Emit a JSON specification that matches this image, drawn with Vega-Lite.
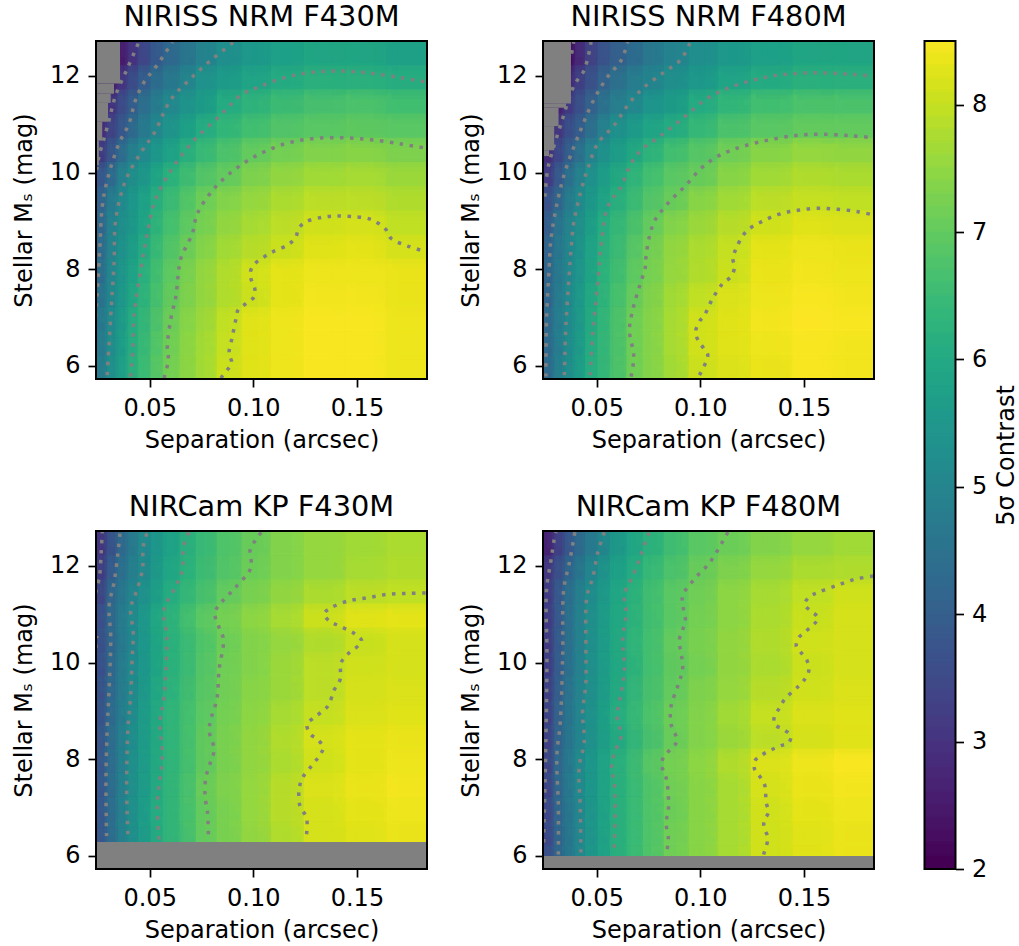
{"$schema":"https://vega.github.io/schema/vega-lite/v6.json","background":"white","padding":{"left":12,"top":3,"right":0,"bottom":0},
"config":{"font":"DejaVu Sans","view":{"stroke":null},"title":{"font":"DejaVu Sans","fontSize":28.8,"fontWeight":"normal","color":"black","offset":8},"axis":{"grid":false,"domain":false,"tickSize":8,"tickWidth":1.7,"tickColor":"black","labelColor":"black","titleColor":"black","labelFont":"DejaVu Sans","titleFont":"DejaVu Sans","labelFontSize":24,"titleFontSize":24,"titleFontWeight":"normal"},"axisX":{"labelPadding":9,"titlePadding":8},"axisY":{"labelPadding":8,"titlePadding":13}},
"datasets":{
"cols":[{"x":0.024,"x2":0.0293},{"x":0.029,"x2":0.0343},{"x":0.034,"x2":0.0393},{"x":0.039,"x2":0.0443},{"x":0.044,"x2":0.0503},{"x":0.05,"x2":0.0563},{"x":0.056,"x2":0.0643},{"x":0.064,"x2":0.0723},{"x":0.072,"x2":0.0823},{"x":0.082,"x2":0.0943},{"x":0.094,"x2":0.1083},{"x":0.108,"x2":0.1243},{"x":0.124,"x2":0.1443},{"x":0.144,"x2":0.1643},{"x":0.164,"x2":0.1845}],
"frame":[{"x":0.0241,"x2":0.1838,"y":5.73,"y2":12.72}],
"maskA":[{"x":0.0241,"x2":0.0357,"y":11.84,"y2":12.72},{"x":0.0241,"x2":0.0328,"y":11.63,"y2":11.84},{"x":0.0241,"x2":0.0312,"y":11.44,"y2":11.63},{"x":0.0241,"x2":0.0299,"y":11.05,"y2":11.44},{"x":0.0241,"x2":0.0271,"y":10.66,"y2":11.05},{"x":0.0241,"x2":0.0255,"y":10.15,"y2":10.66}],
"maskB":[{"x":0.0241,"x2":0.0376,"y":11.43,"y2":12.72},{"x":0.0241,"x2":0.0352,"y":11.34,"y2":11.43},{"x":0.0241,"x2":0.0316,"y":10.96,"y2":11.34},{"x":0.0241,"x2":0.0295,"y":10.46,"y2":10.96},{"x":0.0241,"x2":0.027,"y":10.34,"y2":10.46}],
"maskC":[{"x":0.0241,"x2":0.1838,"y":5.73,"y2":6.29}],
"maskD":[{"x":0.0241,"x2":0.1838,"y":5.73,"y2":6.0}],
"lineA":[{"lev":8,"x":0.0843,"y":5.75},{"lev":8,"x":0.0875,"y":5.92},{"lev":8,"x":0.0896,"y":6.06},{"lev":8,"x":0.0883,"y":6.26},{"lev":8,"x":0.0899,"y":6.61},{"lev":8,"x":0.0915,"y":6.95},{"lev":8,"x":0.0927,"y":7.16},{"lev":8,"x":0.0964,"y":7.29},{"lev":8,"x":0.1004,"y":7.43},{"lev":8,"x":0.1007,"y":7.6},{"lev":8,"x":0.0988,"y":7.81},{"lev":8,"x":0.0988,"y":7.98},{"lev":8,"x":0.1009,"y":8.12},{"lev":8,"x":0.1085,"y":8.34},{"lev":8,"x":0.1165,"y":8.5},{"lev":8,"x":0.1205,"y":8.66},{"lev":8,"x":0.1218,"y":8.84},{"lev":8,"x":0.1254,"y":8.98},{"lev":8,"x":0.1326,"y":9.07},{"lev":8,"x":0.1391,"y":9.1},{"lev":8,"x":0.1471,"y":9.09},{"lev":8,"x":0.1568,"y":9.03},{"lev":8,"x":0.164,"y":8.82},{"lev":8,"x":0.1664,"y":8.64},{"lev":8,"x":0.1745,"y":8.48},{"lev":8,"x":0.1838,"y":8.36},
{"lev":7,"x":0.0569,"y":5.75},{"lev":7,"x":0.059,"y":6.12},{"lev":7,"x":0.0585,"y":6.4},{"lev":7,"x":0.0601,"y":6.95},{"lev":7,"x":0.0626,"y":7.43},{"lev":7,"x":0.0637,"y":7.85},{"lev":7,"x":0.065,"y":8.22},{"lev":7,"x":0.0706,"y":8.74},{"lev":7,"x":0.073,"y":9.15},{"lev":7,"x":0.0811,"y":9.67},{"lev":7,"x":0.0907,"y":10.05},{"lev":7,"x":0.102,"y":10.36},{"lev":7,"x":0.1149,"y":10.59},{"lev":7,"x":0.1278,"y":10.7},{"lev":7,"x":0.1423,"y":10.72},{"lev":7,"x":0.1568,"y":10.68},{"lev":7,"x":0.1713,"y":10.59},{"lev":7,"x":0.1838,"y":10.5},
{"lev":6,"x":0.0408,"y":5.78},{"lev":6,"x":0.0419,"y":6.33},{"lev":6,"x":0.0424,"y":7.02},{"lev":6,"x":0.0465,"y":8.19},{"lev":6,"x":0.0489,"y":8.74},{"lev":6,"x":0.0521,"y":9.36},{"lev":6,"x":0.0593,"y":9.98},{"lev":6,"x":0.0706,"y":10.63},{"lev":6,"x":0.0843,"y":11.19},{"lev":6,"x":0.094,"y":11.6},{"lev":6,"x":0.102,"y":11.76},{"lev":6,"x":0.1149,"y":11.96},{"lev":6,"x":0.1278,"y":12.07},{"lev":6,"x":0.1423,"y":12.1},{"lev":6,"x":0.1552,"y":12.06},{"lev":6,"x":0.1713,"y":11.96},{"lev":6,"x":0.1838,"y":11.87},
{"lev":5,"x":0.0295,"y":5.81},{"lev":5,"x":0.0312,"y":7.02},{"lev":5,"x":0.0328,"y":8.12},{"lev":5,"x":0.0336,"y":9.02},{"lev":5,"x":0.0384,"y":9.84},{"lev":5,"x":0.0465,"y":10.46},{"lev":5,"x":0.0521,"y":10.81},{"lev":5,"x":0.0601,"y":11.5},{"lev":5,"x":0.069,"y":11.91},{"lev":5,"x":0.0795,"y":12.32},{"lev":5,"x":0.0907,"y":12.7},
{"lev":4,"x":0.0239,"y":7.02},{"lev":4,"x":0.0247,"y":7.5},{"lev":4,"x":0.026,"y":8.47},{"lev":4,"x":0.0271,"y":9.29},{"lev":4,"x":0.0295,"y":9.84},{"lev":4,"x":0.0352,"y":10.6},{"lev":4,"x":0.04,"y":11.01},{"lev":4,"x":0.0432,"y":11.5},{"lev":4,"x":0.0473,"y":11.87},{"lev":4,"x":0.0529,"y":12.18},{"lev":4,"x":0.061,"y":12.7},
{"lev":3,"x":0.0244,"y":10.05},{"lev":3,"x":0.0255,"y":10.33},{"lev":3,"x":0.0287,"y":10.81},{"lev":3,"x":0.0312,"y":11.22},{"lev":3,"x":0.0336,"y":11.6},{"lev":3,"x":0.0392,"y":12.15},{"lev":3,"x":0.0448,"y":12.7}],
"lineB":[{"lev":8,"x":0.0996,"y":5.81},{"lev":8,"x":0.1036,"y":6.23},{"lev":8,"x":0.1015,"y":6.37},{"lev":8,"x":0.0988,"y":6.54},{"lev":8,"x":0.0977,"y":6.71},{"lev":8,"x":0.0996,"y":6.92},{"lev":8,"x":0.102,"y":7.05},{"lev":8,"x":0.106,"y":7.4},{"lev":8,"x":0.1109,"y":7.71},{"lev":8,"x":0.1149,"y":7.85},{"lev":8,"x":0.1165,"y":8.05},{"lev":8,"x":0.1157,"y":8.22},{"lev":8,"x":0.1173,"y":8.43},{"lev":8,"x":0.1221,"y":8.78},{"lev":8,"x":0.1294,"y":8.98},{"lev":8,"x":0.1382,"y":9.14},{"lev":8,"x":0.1471,"y":9.22},{"lev":8,"x":0.1568,"y":9.26},{"lev":8,"x":0.1664,"y":9.24},{"lev":8,"x":0.1761,"y":9.19},{"lev":8,"x":0.1838,"y":9.12},
{"lev":7,"x":0.0666,"y":5.78},{"lev":7,"x":0.0679,"y":6.19},{"lev":7,"x":0.0658,"y":6.74},{"lev":7,"x":0.0674,"y":7.16},{"lev":7,"x":0.0706,"y":7.64},{"lev":7,"x":0.0735,"y":8.05},{"lev":7,"x":0.0738,"y":8.26},{"lev":7,"x":0.0754,"y":8.67},{"lev":7,"x":0.0782,"y":9.02},{"lev":7,"x":0.0843,"y":9.36},{"lev":7,"x":0.0924,"y":9.71},{"lev":7,"x":0.102,"y":10.15},{"lev":7,"x":0.1109,"y":10.39},{"lev":7,"x":0.1197,"y":10.53},{"lev":7,"x":0.1326,"y":10.67},{"lev":7,"x":0.1471,"y":10.77},{"lev":7,"x":0.16,"y":10.79},{"lev":7,"x":0.1729,"y":10.76},{"lev":7,"x":0.1838,"y":10.72},
{"lev":6,"x":0.0469,"y":5.81},{"lev":6,"x":0.0481,"y":6.67},{"lev":6,"x":0.0505,"y":7.71},{"lev":6,"x":0.0524,"y":8.6},{"lev":6,"x":0.0553,"y":9.29},{"lev":6,"x":0.0618,"y":9.71},{"lev":6,"x":0.0666,"y":10.19},{"lev":6,"x":0.0714,"y":10.46},{"lev":6,"x":0.0811,"y":10.77},{"lev":6,"x":0.0924,"y":11.15},{"lev":6,"x":0.1028,"y":11.52},{"lev":6,"x":0.1149,"y":11.77},{"lev":6,"x":0.1326,"y":11.98},{"lev":6,"x":0.1471,"y":12.05},{"lev":6,"x":0.16,"y":12.06},{"lev":6,"x":0.1729,"y":12.03},{"lev":6,"x":0.1838,"y":11.99},
{"lev":5,"x":0.0344,"y":5.81},{"lev":5,"x":0.0352,"y":6.88},{"lev":5,"x":0.0368,"y":7.91},{"lev":5,"x":0.0376,"y":8.4},{"lev":5,"x":0.0389,"y":8.95},{"lev":5,"x":0.0421,"y":9.57},{"lev":5,"x":0.0457,"y":10.08},{"lev":5,"x":0.0505,"y":10.6},{"lev":5,"x":0.0585,"y":10.98},{"lev":5,"x":0.065,"y":11.39},{"lev":5,"x":0.0722,"y":11.74},{"lev":5,"x":0.0827,"y":12.08},{"lev":5,"x":0.0907,"y":12.34},{"lev":5,"x":0.0952,"y":12.7},
{"lev":4,"x":0.0255,"y":5.78},{"lev":4,"x":0.0258,"y":6.95},{"lev":4,"x":0.0271,"y":8.05},{"lev":4,"x":0.0279,"y":8.6},{"lev":4,"x":0.0312,"y":9.43},{"lev":4,"x":0.0352,"y":10.08},{"lev":4,"x":0.0416,"y":10.81},{"lev":4,"x":0.0489,"y":11.53},{"lev":4,"x":0.0553,"y":11.98},{"lev":4,"x":0.0618,"y":12.32},{"lev":4,"x":0.065,"y":12.7},
{"lev":3,"x":0.025,"y":9.5},{"lev":3,"x":0.0263,"y":10.05},{"lev":3,"x":0.0279,"y":10.33},{"lev":3,"x":0.0328,"y":11.01},{"lev":3,"x":0.0392,"y":11.81},{"lev":3,"x":0.044,"y":12.12},{"lev":3,"x":0.0473,"y":12.7},
{"lev":2,"x":0.0379,"y":12.46},{"lev":2,"x":0.0389,"y":12.7}],
"lineC":[{"lev":8,"x":0.1257,"y":6.45},{"lev":8,"x":0.1257,"y":6.79},{"lev":8,"x":0.1225,"y":7.03},{"lev":8,"x":0.1221,"y":7.38},{"lev":8,"x":0.1238,"y":7.62},{"lev":8,"x":0.1286,"y":7.89},{"lev":8,"x":0.1318,"y":8.07},{"lev":8,"x":0.1337,"y":8.24},{"lev":8,"x":0.131,"y":8.41},{"lev":8,"x":0.1278,"y":8.51},{"lev":8,"x":0.1258,"y":8.72},{"lev":8,"x":0.1286,"y":8.84},{"lev":8,"x":0.1358,"y":9.09},{"lev":8,"x":0.1391,"y":9.44},{"lev":8,"x":0.1419,"y":9.65},{"lev":8,"x":0.1423,"y":9.99},{"lev":8,"x":0.1455,"y":10.17},{"lev":8,"x":0.1523,"y":10.44},{"lev":8,"x":0.1487,"y":10.6},{"lev":8,"x":0.1407,"y":10.77},{"lev":8,"x":0.1366,"y":10.86},{"lev":8,"x":0.1342,"y":11.01},{"lev":8,"x":0.1374,"y":11.13},{"lev":8,"x":0.1455,"y":11.27},{"lev":8,"x":0.1552,"y":11.34},{"lev":8,"x":0.1648,"y":11.41},{"lev":8,"x":0.1745,"y":11.43},{"lev":8,"x":0.1838,"y":11.44},
{"lev":7,"x":0.0783,"y":6.45},{"lev":7,"x":0.0779,"y":6.9},{"lev":7,"x":0.0767,"y":7.24},{"lev":7,"x":0.0771,"y":7.62},{"lev":7,"x":0.0795,"y":7.96},{"lev":7,"x":0.0811,"y":8.2},{"lev":7,"x":0.0787,"y":8.58},{"lev":7,"x":0.0795,"y":8.82},{"lev":7,"x":0.0824,"y":9.24},{"lev":7,"x":0.0835,"y":9.86},{"lev":7,"x":0.0856,"y":10.48},{"lev":7,"x":0.0835,"y":10.72},{"lev":7,"x":0.0814,"y":11.03},{"lev":7,"x":0.0843,"y":11.23},{"lev":7,"x":0.0907,"y":11.52},{"lev":7,"x":0.0988,"y":11.96},{"lev":7,"x":0.0985,"y":12.34},{"lev":7,"x":0.1012,"y":12.54},{"lev":7,"x":0.1039,"y":12.7},
{"lev":6,"x":0.0545,"y":6.34},{"lev":6,"x":0.0537,"y":7.1},{"lev":6,"x":0.0561,"y":8.07},{"lev":6,"x":0.055,"y":8.75},{"lev":6,"x":0.0569,"y":9.27},{"lev":6,"x":0.0581,"y":10.13},{"lev":6,"x":0.0581,"y":10.61},{"lev":6,"x":0.0566,"y":11.03},{"lev":6,"x":0.0581,"y":11.23},{"lev":6,"x":0.0626,"y":11.58},{"lev":6,"x":0.0658,"y":11.92},{"lev":6,"x":0.0663,"y":12.4},{"lev":6,"x":0.069,"y":12.7},
{"lev":5,"x":0.0395,"y":6.45},{"lev":5,"x":0.0389,"y":7.38},{"lev":5,"x":0.0395,"y":8.62},{"lev":5,"x":0.0408,"y":9.31},{"lev":5,"x":0.0416,"y":10.13},{"lev":5,"x":0.0421,"y":10.61},{"lev":5,"x":0.0408,"y":11.13},{"lev":5,"x":0.0428,"y":11.37},{"lev":5,"x":0.0465,"y":11.92},{"lev":5,"x":0.0469,"y":12.4},{"lev":5,"x":0.0489,"y":12.7},
{"lev":4,"x":0.0292,"y":6.41},{"lev":4,"x":0.0289,"y":7.52},{"lev":4,"x":0.0295,"y":8.62},{"lev":4,"x":0.0304,"y":9.44},{"lev":4,"x":0.0312,"y":10.55},{"lev":4,"x":0.0304,"y":11.17},{"lev":4,"x":0.0328,"y":11.65},{"lev":4,"x":0.0347,"y":12.27},{"lev":4,"x":0.0357,"y":12.7},
{"lev":3,"x":0.0239,"y":11.44},{"lev":3,"x":0.0258,"y":11.79},{"lev":3,"x":0.0266,"y":12.27},{"lev":3,"x":0.0271,"y":12.7},
{"lev":2,"x":0.024,"y":10.3},{"lev":2,"x":0.0245,"y":10.55}],
"lineD":[{"lev":8,"x":0.1305,"y":6.03},{"lev":8,"x":0.1326,"y":6.38},{"lev":8,"x":0.131,"y":6.55},{"lev":8,"x":0.1307,"y":6.72},{"lev":8,"x":0.1329,"y":6.91},{"lev":8,"x":0.1318,"y":7.1},{"lev":8,"x":0.131,"y":7.48},{"lev":8,"x":0.1286,"y":7.65},{"lev":8,"x":0.1262,"y":7.79},{"lev":8,"x":0.1262,"y":7.96},{"lev":8,"x":0.1297,"y":8.09},{"lev":8,"x":0.1382,"y":8.27},{"lev":8,"x":0.1426,"y":8.34},{"lev":8,"x":0.1436,"y":8.49},{"lev":8,"x":0.1399,"y":8.62},{"lev":8,"x":0.1358,"y":8.72},{"lev":8,"x":0.1358,"y":8.89},{"lev":8,"x":0.1382,"y":9.06},{"lev":8,"x":0.1407,"y":9.24},{"lev":8,"x":0.1471,"y":9.5},{"lev":8,"x":0.1503,"y":9.65},{"lev":8,"x":0.1523,"y":9.82},{"lev":8,"x":0.1516,"y":10.03},{"lev":8,"x":0.1487,"y":10.2},{"lev":8,"x":0.1463,"y":10.34},{"lev":8,"x":0.1474,"y":10.51},{"lev":8,"x":0.1511,"y":10.65},{"lev":8,"x":0.1568,"y":10.92},{"lev":8,"x":0.1535,"y":11.06},{"lev":8,"x":0.1503,"y":11.2},{"lev":8,"x":0.1527,"y":11.36},{"lev":8,"x":0.1568,"y":11.45},{"lev":8,"x":0.1656,"y":11.59},{"lev":8,"x":0.1745,"y":11.72},{"lev":8,"x":0.1838,"y":11.79},
{"lev":7,"x":0.084,"y":6.14},{"lev":7,"x":0.0846,"y":6.34},{"lev":7,"x":0.0835,"y":6.69},{"lev":7,"x":0.0846,"y":6.96},{"lev":7,"x":0.084,"y":7.52},{"lev":7,"x":0.0827,"y":7.72},{"lev":7,"x":0.0811,"y":7.89},{"lev":7,"x":0.0827,"y":8.07},{"lev":7,"x":0.0859,"y":8.22},{"lev":7,"x":0.0888,"y":8.38},{"lev":7,"x":0.0859,"y":8.72},{"lev":7,"x":0.0859,"y":9.1},{"lev":7,"x":0.0891,"y":9.51},{"lev":7,"x":0.0915,"y":9.89},{"lev":7,"x":0.0899,"y":10.48},{"lev":7,"x":0.0915,"y":10.68},{"lev":7,"x":0.0928,"y":10.86},{"lev":7,"x":0.0915,"y":11.2},{"lev":7,"x":0.0915,"y":11.39},{"lev":7,"x":0.0972,"y":11.73},{"lev":7,"x":0.1044,"y":12.06},{"lev":7,"x":0.1109,"y":12.51},{"lev":7,"x":0.1133,"y":12.7},
{"lev":6,"x":0.0585,"y":6.17},{"lev":6,"x":0.0589,"y":6.96},{"lev":6,"x":0.0585,"y":7.52},{"lev":6,"x":0.0572,"y":7.86},{"lev":6,"x":0.0585,"y":8.13},{"lev":6,"x":0.0618,"y":8.48},{"lev":6,"x":0.0598,"y":8.89},{"lev":6,"x":0.0618,"y":9.37},{"lev":6,"x":0.0634,"y":9.86},{"lev":6,"x":0.0626,"y":10.48},{"lev":6,"x":0.0642,"y":11.03},{"lev":6,"x":0.0634,"y":11.41},{"lev":6,"x":0.0674,"y":11.79},{"lev":6,"x":0.0706,"y":12.13},{"lev":6,"x":0.0722,"y":12.34},{"lev":6,"x":0.0754,"y":12.7},
{"lev":5,"x":0.0424,"y":6.07},{"lev":5,"x":0.0421,"y":6.96},{"lev":5,"x":0.0416,"y":7.86},{"lev":5,"x":0.044,"y":8.34},{"lev":5,"x":0.0432,"y":8.96},{"lev":5,"x":0.0448,"y":9.58},{"lev":5,"x":0.0448,"y":10.27},{"lev":5,"x":0.0453,"y":11.37},{"lev":5,"x":0.0481,"y":11.75},{"lev":5,"x":0.0505,"y":12.27},{"lev":5,"x":0.0537,"y":12.7},
{"lev":4,"x":0.0315,"y":6.03},{"lev":4,"x":0.0315,"y":7.03},{"lev":4,"x":0.0308,"y":8.07},{"lev":4,"x":0.0324,"y":8.75},{"lev":4,"x":0.0336,"y":10.13},{"lev":4,"x":0.0341,"y":11.51},{"lev":4,"x":0.0368,"y":12.06},{"lev":4,"x":0.0395,"y":12.7},
{"lev":3,"x":0.0244,"y":6.28},{"lev":3,"x":0.0255,"y":8.41},{"lev":3,"x":0.026,"y":10.13},{"lev":3,"x":0.0258,"y":11.51},{"lev":3,"x":0.0279,"y":12.1},{"lev":3,"x":0.0295,"y":12.54},{"lev":3,"x":0.0304,"y":12.7}],
"cellA":[
{"x":0.024,"y":5.7,"c":4.6},{"x":0.029,"y":5.7,"c":5.15},{"x":0.034,"y":5.7,"c":5.55},{"x":0.039,"y":5.7,"c":6.05},{"x":0.044,"y":5.7,"c":6.35},{"x":0.05,"y":5.7,"c":6.7},{"x":0.056,"y":5.7,"c":7.1},{"x":0.064,"y":5.7,"c":7.35},{"x":0.072,"y":5.7,"c":7.6},{"x":0.082,"y":5.7,"c":8.0},{"x":0.094,"y":5.7,"c":8.2},{"x":0.108,"y":5.7,"c":8.35},{"x":0.124,"y":5.7,"c":8.45},{"x":0.144,"y":5.7,"c":8.45},{"x":0.164,"y":5.7,"c":8.35},
{"x":0.024,"y":6.2,"c":4.55},{"x":0.029,"y":6.2,"c":5.1},{"x":0.034,"y":6.2,"c":5.5},{"x":0.039,"y":6.2,"c":5.95},{"x":0.044,"y":6.2,"c":6.3},{"x":0.05,"y":6.2,"c":6.65},{"x":0.056,"y":6.2,"c":7.05},{"x":0.064,"y":6.2,"c":7.35},{"x":0.072,"y":6.2,"c":7.6},{"x":0.082,"y":6.2,"c":7.95},{"x":0.094,"y":6.2,"c":8.2},{"x":0.108,"y":6.2,"c":8.35},{"x":0.124,"y":6.2,"c":8.45},{"x":0.144,"y":6.2,"c":8.45},{"x":0.164,"y":6.2,"c":8.35},
{"x":0.024,"y":6.7,"c":4.5},{"x":0.029,"y":6.7,"c":5.05},{"x":0.034,"y":6.7,"c":5.45},{"x":0.039,"y":6.7,"c":5.95},{"x":0.044,"y":6.7,"c":6.25},{"x":0.05,"y":6.7,"c":6.6},{"x":0.056,"y":6.7,"c":7.0},{"x":0.064,"y":6.7,"c":7.3},{"x":0.072,"y":6.7,"c":7.55},{"x":0.082,"y":6.7,"c":7.9},{"x":0.094,"y":6.7,"c":8.2},{"x":0.108,"y":6.7,"c":8.35},{"x":0.124,"y":6.7,"c":8.45},{"x":0.144,"y":6.7,"c":8.45},{"x":0.164,"y":6.7,"c":8.35},
{"x":0.024,"y":7.2,"c":4.35},{"x":0.029,"y":7.2,"c":4.95},{"x":0.034,"y":7.2,"c":5.35},{"x":0.039,"y":7.2,"c":5.8},{"x":0.044,"y":7.2,"c":6.15},{"x":0.05,"y":7.2,"c":6.5},{"x":0.056,"y":7.2,"c":6.9},{"x":0.064,"y":7.2,"c":7.2},{"x":0.072,"y":7.2,"c":7.45},{"x":0.082,"y":7.2,"c":7.75},{"x":0.094,"y":7.2,"c":8.0},{"x":0.108,"y":7.2,"c":8.25},{"x":0.124,"y":7.2,"c":8.4},{"x":0.144,"y":7.2,"c":8.4},{"x":0.164,"y":7.2,"c":8.3},
{"x":0.024,"y":7.7,"c":4.2},{"x":0.029,"y":7.7,"c":4.9},{"x":0.034,"y":7.7,"c":5.3},{"x":0.039,"y":7.7,"c":5.7},{"x":0.044,"y":7.7,"c":6.05},{"x":0.05,"y":7.7,"c":6.45},{"x":0.056,"y":7.7,"c":6.85},{"x":0.064,"y":7.7,"c":7.15},{"x":0.072,"y":7.7,"c":7.45},{"x":0.082,"y":7.7,"c":7.75},{"x":0.094,"y":7.7,"c":8.05},{"x":0.108,"y":7.7,"c":8.25},{"x":0.124,"y":7.7,"c":8.35},{"x":0.144,"y":7.7,"c":8.35},{"x":0.164,"y":7.7,"c":8.3},
{"x":0.024,"y":8.2,"c":4.1},{"x":0.029,"y":8.2,"c":4.8},{"x":0.034,"y":8.2,"c":5.2},{"x":0.039,"y":8.2,"c":5.55},{"x":0.044,"y":8.2,"c":5.9},{"x":0.05,"y":8.2,"c":6.3},{"x":0.056,"y":8.2,"c":6.7},{"x":0.064,"y":8.2,"c":7.0},{"x":0.072,"y":8.2,"c":7.3},{"x":0.082,"y":8.2,"c":7.6},{"x":0.094,"y":8.2,"c":7.8},{"x":0.108,"y":8.2,"c":8.0},{"x":0.124,"y":8.2,"c":8.2},{"x":0.144,"y":8.2,"c":8.25},{"x":0.164,"y":8.2,"c":8.1},
{"x":0.024,"y":8.7,"c":4.0},{"x":0.029,"y":8.7,"c":4.75},{"x":0.034,"y":8.7,"c":5.15},{"x":0.039,"y":8.7,"c":5.45},{"x":0.044,"y":8.7,"c":5.75},{"x":0.05,"y":8.7,"c":6.15},{"x":0.056,"y":8.7,"c":6.55},{"x":0.064,"y":8.7,"c":6.85},{"x":0.072,"y":8.7,"c":7.15},{"x":0.082,"y":8.7,"c":7.45},{"x":0.094,"y":8.7,"c":7.65},{"x":0.108,"y":8.7,"c":7.85},{"x":0.124,"y":8.7,"c":8.05},{"x":0.144,"y":8.7,"c":8.1},{"x":0.164,"y":8.7,"c":7.9},
{"x":0.024,"y":9.2,"c":3.9},{"x":0.029,"y":9.2,"c":4.6},{"x":0.034,"y":9.2,"c":5.0},{"x":0.039,"y":9.2,"c":5.35},{"x":0.044,"y":9.2,"c":5.65},{"x":0.05,"y":9.2,"c":6.0},{"x":0.056,"y":9.2,"c":6.4},{"x":0.064,"y":9.2,"c":6.7},{"x":0.072,"y":9.2,"c":7.05},{"x":0.082,"y":9.2,"c":7.3},{"x":0.094,"y":9.2,"c":7.5},{"x":0.108,"y":9.2,"c":7.7},{"x":0.124,"y":9.2,"c":7.85},{"x":0.144,"y":9.2,"c":7.85},{"x":0.164,"y":9.2,"c":7.75},
{"x":0.024,"y":9.7,"c":3.7},{"x":0.029,"y":9.7,"c":4.1},{"x":0.034,"y":9.7,"c":4.75},{"x":0.039,"y":9.7,"c":5.15},{"x":0.044,"y":9.7,"c":5.45},{"x":0.05,"y":9.7,"c":5.75},{"x":0.056,"y":9.7,"c":6.1},{"x":0.064,"y":9.7,"c":6.45},{"x":0.072,"y":9.7,"c":6.75},{"x":0.082,"y":9.7,"c":6.95},{"x":0.094,"y":9.7,"c":7.25},{"x":0.108,"y":9.7,"c":7.45},{"x":0.124,"y":9.7,"c":7.6},{"x":0.144,"y":9.7,"c":7.65},{"x":0.164,"y":9.7,"c":7.55},
{"x":0.024,"y":10.2,"c":3.05},{"x":0.029,"y":10.2,"c":3.6},{"x":0.034,"y":10.2,"c":4.2},{"x":0.039,"y":10.2,"c":4.7},{"x":0.044,"y":10.2,"c":5.05},{"x":0.05,"y":10.2,"c":5.4},{"x":0.056,"y":10.2,"c":5.7},{"x":0.064,"y":10.2,"c":6.05},{"x":0.072,"y":10.2,"c":6.4},{"x":0.082,"y":10.2,"c":6.65},{"x":0.094,"y":10.2,"c":6.95},{"x":0.108,"y":10.2,"c":7.15},{"x":0.124,"y":10.2,"c":7.3},{"x":0.144,"y":10.2,"c":7.35},{"x":0.164,"y":10.2,"c":7.25},
{"x":0.024,"y":10.7,"c":2.7},{"x":0.029,"y":10.7,"c":3.2},{"x":0.034,"y":10.7,"c":3.7},{"x":0.039,"y":10.7,"c":4.15},{"x":0.044,"y":10.7,"c":4.6},{"x":0.05,"y":10.7,"c":4.95},{"x":0.056,"y":10.7,"c":5.3},{"x":0.064,"y":10.7,"c":5.65},{"x":0.072,"y":10.7,"c":6.0},{"x":0.082,"y":10.7,"c":6.3},{"x":0.094,"y":10.7,"c":6.55},{"x":0.108,"y":10.7,"c":6.75},{"x":0.124,"y":10.7,"c":6.85},{"x":0.144,"y":10.7,"c":6.9},{"x":0.164,"y":10.7,"c":6.85},
{"x":0.024,"y":11.2,"c":2.5},{"x":0.029,"y":11.2,"c":2.85},{"x":0.034,"y":11.2,"c":3.4},{"x":0.039,"y":11.2,"c":3.85},{"x":0.044,"y":11.2,"c":4.3},{"x":0.05,"y":11.2,"c":4.65},{"x":0.056,"y":11.2,"c":5.0},{"x":0.064,"y":11.2,"c":5.3},{"x":0.072,"y":11.2,"c":5.6},{"x":0.082,"y":11.2,"c":6.0},{"x":0.094,"y":11.2,"c":6.25},{"x":0.108,"y":11.2,"c":6.45},{"x":0.124,"y":11.2,"c":6.6},{"x":0.144,"y":11.2,"c":6.65},{"x":0.164,"y":11.2,"c":6.55},
{"x":0.024,"y":11.7,"c":2.3},{"x":0.029,"y":11.7,"c":2.4},{"x":0.034,"y":11.7,"c":2.9},{"x":0.039,"y":11.7,"c":3.4},{"x":0.044,"y":11.7,"c":3.85},{"x":0.05,"y":11.7,"c":4.25},{"x":0.056,"y":11.7,"c":4.55},{"x":0.064,"y":11.7,"c":4.85},{"x":0.072,"y":11.7,"c":5.3},{"x":0.082,"y":11.7,"c":5.55},{"x":0.094,"y":11.7,"c":5.8},{"x":0.108,"y":11.7,"c":6.0},{"x":0.124,"y":11.7,"c":6.15},{"x":0.144,"y":11.7,"c":6.15},{"x":0.164,"y":11.7,"c":6.05},
{"x":0.024,"y":12.2,"c":2.1},{"x":0.029,"y":12.2,"c":2.2},{"x":0.034,"y":12.2,"c":2.4},{"x":0.039,"y":12.2,"c":2.9},{"x":0.044,"y":12.2,"c":3.3},{"x":0.05,"y":12.2,"c":3.75},{"x":0.056,"y":12.2,"c":4.15},{"x":0.064,"y":12.2,"c":4.5},{"x":0.072,"y":12.2,"c":4.85},{"x":0.082,"y":12.2,"c":5.2},{"x":0.094,"y":12.2,"c":5.5},{"x":0.108,"y":12.2,"c":5.7},{"x":0.124,"y":12.2,"c":5.85},{"x":0.144,"y":12.2,"c":5.85},{"x":0.164,"y":12.2,"c":5.75}],
"cellB":[
{"x":0.024,"y":5.7,"c":4.1},{"x":0.029,"y":5.7,"c":4.7},{"x":0.034,"y":5.7,"c":5.1},{"x":0.039,"y":5.7,"c":5.5},{"x":0.044,"y":5.7,"c":6.0},{"x":0.05,"y":5.7,"c":6.25},{"x":0.056,"y":5.7,"c":6.6},{"x":0.064,"y":5.7,"c":7.05},{"x":0.072,"y":5.7,"c":7.3},{"x":0.082,"y":5.7,"c":7.6},{"x":0.094,"y":5.7,"c":8.0},{"x":0.108,"y":5.7,"c":8.15},{"x":0.124,"y":5.7,"c":8.3},{"x":0.144,"y":5.7,"c":8.45},{"x":0.164,"y":5.7,"c":8.4},
{"x":0.024,"y":6.2,"c":4.1},{"x":0.029,"y":6.2,"c":4.65},{"x":0.034,"y":6.2,"c":5.1},{"x":0.039,"y":6.2,"c":5.45},{"x":0.044,"y":6.2,"c":5.95},{"x":0.05,"y":6.2,"c":6.25},{"x":0.056,"y":6.2,"c":6.6},{"x":0.064,"y":6.2,"c":7.05},{"x":0.072,"y":6.2,"c":7.3},{"x":0.082,"y":6.2,"c":7.65},{"x":0.094,"y":6.2,"c":8.05},{"x":0.108,"y":6.2,"c":8.2},{"x":0.124,"y":6.2,"c":8.35},{"x":0.144,"y":6.2,"c":8.45},{"x":0.164,"y":6.2,"c":8.4},
{"x":0.024,"y":6.7,"c":4.05},{"x":0.029,"y":6.7,"c":4.65},{"x":0.034,"y":6.7,"c":5.05},{"x":0.039,"y":6.7,"c":5.4},{"x":0.044,"y":6.7,"c":5.9},{"x":0.05,"y":6.7,"c":6.2},{"x":0.056,"y":6.7,"c":6.6},{"x":0.064,"y":6.7,"c":7.05},{"x":0.072,"y":6.7,"c":7.3},{"x":0.082,"y":6.7,"c":7.65},{"x":0.094,"y":6.7,"c":8.05},{"x":0.108,"y":6.7,"c":8.2},{"x":0.124,"y":6.7,"c":8.4},{"x":0.144,"y":6.7,"c":8.5},{"x":0.164,"y":6.7,"c":8.45},
{"x":0.024,"y":7.2,"c":4.0},{"x":0.029,"y":7.2,"c":4.6},{"x":0.034,"y":7.2,"c":5.0},{"x":0.039,"y":7.2,"c":5.4},{"x":0.044,"y":7.2,"c":5.85},{"x":0.05,"y":7.2,"c":6.15},{"x":0.056,"y":7.2,"c":6.55},{"x":0.064,"y":7.2,"c":6.95},{"x":0.072,"y":7.2,"c":7.25},{"x":0.082,"y":7.2,"c":7.6},{"x":0.094,"y":7.2,"c":7.9},{"x":0.108,"y":7.2,"c":8.15},{"x":0.124,"y":7.2,"c":8.35},{"x":0.144,"y":7.2,"c":8.45},{"x":0.164,"y":7.2,"c":8.4},
{"x":0.024,"y":7.7,"c":4.0},{"x":0.029,"y":7.7,"c":4.55},{"x":0.034,"y":7.7,"c":4.95},{"x":0.039,"y":7.7,"c":5.3},{"x":0.044,"y":7.7,"c":5.75},{"x":0.05,"y":7.7,"c":6.1},{"x":0.056,"y":7.7,"c":6.45},{"x":0.064,"y":7.7,"c":6.85},{"x":0.072,"y":7.7,"c":7.15},{"x":0.082,"y":7.7,"c":7.5},{"x":0.094,"y":7.7,"c":7.75},{"x":0.108,"y":7.7,"c":8.0},{"x":0.124,"y":7.7,"c":8.3},{"x":0.144,"y":7.7,"c":8.4},{"x":0.164,"y":7.7,"c":8.35},
{"x":0.024,"y":8.2,"c":3.95},{"x":0.029,"y":8.2,"c":4.5},{"x":0.034,"y":8.2,"c":4.9},{"x":0.039,"y":8.2,"c":5.25},{"x":0.044,"y":8.2,"c":5.7},{"x":0.05,"y":8.2,"c":6.05},{"x":0.056,"y":8.2,"c":6.4},{"x":0.064,"y":8.2,"c":6.75},{"x":0.072,"y":8.2,"c":7.1},{"x":0.082,"y":8.2,"c":7.45},{"x":0.094,"y":8.2,"c":7.7},{"x":0.108,"y":8.2,"c":7.95},{"x":0.124,"y":8.2,"c":8.25},{"x":0.144,"y":8.2,"c":8.35},{"x":0.164,"y":8.2,"c":8.3},
{"x":0.024,"y":8.7,"c":3.85},{"x":0.029,"y":8.7,"c":4.35},{"x":0.034,"y":8.7,"c":4.8},{"x":0.039,"y":8.7,"c":5.15},{"x":0.044,"y":8.7,"c":5.6},{"x":0.05,"y":8.7,"c":5.95},{"x":0.056,"y":8.7,"c":6.3},{"x":0.064,"y":8.7,"c":6.6},{"x":0.072,"y":8.7,"c":6.95},{"x":0.082,"y":8.7,"c":7.3},{"x":0.094,"y":8.7,"c":7.55},{"x":0.108,"y":8.7,"c":7.8},{"x":0.124,"y":8.7,"c":8.05},{"x":0.144,"y":8.7,"c":8.2},{"x":0.164,"y":8.7,"c":8.15},
{"x":0.024,"y":9.2,"c":3.55},{"x":0.029,"y":9.2,"c":4.0},{"x":0.034,"y":9.2,"c":4.6},{"x":0.039,"y":9.2,"c":5.0},{"x":0.044,"y":9.2,"c":5.45},{"x":0.05,"y":9.2,"c":5.75},{"x":0.056,"y":9.2,"c":6.05},{"x":0.064,"y":9.2,"c":6.4},{"x":0.072,"y":9.2,"c":6.75},{"x":0.082,"y":9.2,"c":7.0},{"x":0.094,"y":9.2,"c":7.35},{"x":0.108,"y":9.2,"c":7.6},{"x":0.124,"y":9.2,"c":7.85},{"x":0.144,"y":9.2,"c":7.95},{"x":0.164,"y":9.2,"c":7.9},
{"x":0.024,"y":9.7,"c":3.0},{"x":0.029,"y":9.7,"c":3.7},{"x":0.034,"y":9.7,"c":4.3},{"x":0.039,"y":9.7,"c":4.75},{"x":0.044,"y":9.7,"c":5.2},{"x":0.05,"y":9.7,"c":5.55},{"x":0.056,"y":9.7,"c":5.85},{"x":0.064,"y":9.7,"c":6.2},{"x":0.072,"y":9.7,"c":6.55},{"x":0.082,"y":9.7,"c":6.85},{"x":0.094,"y":9.7,"c":7.0},{"x":0.108,"y":9.7,"c":7.35},{"x":0.124,"y":9.7,"c":7.6},{"x":0.144,"y":9.7,"c":7.75},{"x":0.164,"y":9.7,"c":7.7},
{"x":0.024,"y":10.2,"c":2.75},{"x":0.029,"y":10.2,"c":3.3},{"x":0.034,"y":10.2,"c":3.85},{"x":0.039,"y":10.2,"c":4.3},{"x":0.044,"y":10.2,"c":4.8},{"x":0.05,"y":10.2,"c":5.2},{"x":0.056,"y":10.2,"c":5.55},{"x":0.064,"y":10.2,"c":5.85},{"x":0.072,"y":10.2,"c":6.2},{"x":0.082,"y":10.2,"c":6.55},{"x":0.094,"y":10.2,"c":6.8},{"x":0.108,"y":10.2,"c":7.1},{"x":0.124,"y":10.2,"c":7.35},{"x":0.144,"y":10.2,"c":7.5},{"x":0.164,"y":10.2,"c":7.45},
{"x":0.024,"y":10.7,"c":2.4},{"x":0.029,"y":10.7,"c":2.95},{"x":0.034,"y":10.7,"c":3.5},{"x":0.039,"y":10.7,"c":3.85},{"x":0.044,"y":10.7,"c":4.3},{"x":0.05,"y":10.7,"c":4.75},{"x":0.056,"y":10.7,"c":5.2},{"x":0.064,"y":10.7,"c":5.5},{"x":0.072,"y":10.7,"c":5.8},{"x":0.082,"y":10.7,"c":6.0},{"x":0.094,"y":10.7,"c":6.35},{"x":0.108,"y":10.7,"c":6.65},{"x":0.124,"y":10.7,"c":6.85},{"x":0.144,"y":10.7,"c":6.95},{"x":0.164,"y":10.7,"c":6.95},
{"x":0.024,"y":11.2,"c":2.2},{"x":0.029,"y":11.2,"c":2.55},{"x":0.034,"y":11.2,"c":3.0},{"x":0.039,"y":11.2,"c":3.45},{"x":0.044,"y":11.2,"c":3.9},{"x":0.05,"y":11.2,"c":4.35},{"x":0.056,"y":11.2,"c":4.7},{"x":0.064,"y":11.2,"c":5.0},{"x":0.072,"y":11.2,"c":5.35},{"x":0.082,"y":11.2,"c":5.6},{"x":0.094,"y":11.2,"c":6.0},{"x":0.108,"y":11.2,"c":6.3},{"x":0.124,"y":11.2,"c":6.55},{"x":0.144,"y":11.2,"c":6.65},{"x":0.164,"y":11.2,"c":6.65},
{"x":0.024,"y":11.7,"c":2.15},{"x":0.029,"y":11.7,"c":2.3},{"x":0.034,"y":11.7,"c":2.65},{"x":0.039,"y":11.7,"c":3.15},{"x":0.044,"y":11.7,"c":3.55},{"x":0.05,"y":11.7,"c":3.95},{"x":0.056,"y":11.7,"c":4.35},{"x":0.064,"y":11.7,"c":4.7},{"x":0.072,"y":11.7,"c":4.95},{"x":0.082,"y":11.7,"c":5.25},{"x":0.094,"y":11.7,"c":5.5},{"x":0.108,"y":11.7,"c":5.8},{"x":0.124,"y":11.7,"c":6.0},{"x":0.144,"y":11.7,"c":6.15},{"x":0.164,"y":11.7,"c":6.15},
{"x":0.024,"y":12.2,"c":2.05},{"x":0.029,"y":12.2,"c":2.05},{"x":0.034,"y":12.2,"c":2.1},{"x":0.039,"y":12.2,"c":2.65},{"x":0.044,"y":12.2,"c":3.2},{"x":0.05,"y":12.2,"c":3.6},{"x":0.056,"y":12.2,"c":3.9},{"x":0.064,"y":12.2,"c":4.25},{"x":0.072,"y":12.2,"c":4.6},{"x":0.082,"y":12.2,"c":4.9},{"x":0.094,"y":12.2,"c":5.2},{"x":0.108,"y":12.2,"c":5.5},{"x":0.124,"y":12.2,"c":5.7},{"x":0.144,"y":12.2,"c":5.85},{"x":0.164,"y":12.2,"c":5.85}],
"cellC":[
{"x":0.024,"y":6.2,"c":3.7},{"x":0.029,"y":6.2,"c":4.2},{"x":0.034,"y":6.2,"c":4.7},{"x":0.039,"y":6.2,"c":5.15},{"x":0.044,"y":6.2,"c":5.5},{"x":0.05,"y":6.2,"c":5.9},{"x":0.056,"y":6.2,"c":6.25},{"x":0.064,"y":6.2,"c":6.5},{"x":0.072,"y":6.2,"c":6.95},{"x":0.082,"y":6.2,"c":7.2},{"x":0.094,"y":6.2,"c":7.45},{"x":0.108,"y":6.2,"c":7.75},{"x":0.124,"y":6.2,"c":8.1},{"x":0.144,"y":6.2,"c":8.2},{"x":0.164,"y":6.2,"c":8.3},
{"x":0.024,"y":6.7,"c":3.7},{"x":0.029,"y":6.7,"c":4.2},{"x":0.034,"y":6.7,"c":4.7},{"x":0.039,"y":6.7,"c":5.15},{"x":0.044,"y":6.7,"c":5.5},{"x":0.05,"y":6.7,"c":5.95},{"x":0.056,"y":6.7,"c":6.25},{"x":0.064,"y":6.7,"c":6.55},{"x":0.072,"y":6.7,"c":6.95},{"x":0.082,"y":6.7,"c":7.2},{"x":0.094,"y":6.7,"c":7.5},{"x":0.108,"y":6.7,"c":7.8},{"x":0.124,"y":6.7,"c":8.1},{"x":0.144,"y":6.7,"c":8.25},{"x":0.164,"y":6.7,"c":8.35},
{"x":0.024,"y":7.2,"c":3.7},{"x":0.029,"y":7.2,"c":4.2},{"x":0.034,"y":7.2,"c":4.7},{"x":0.039,"y":7.2,"c":5.15},{"x":0.044,"y":7.2,"c":5.5},{"x":0.05,"y":7.2,"c":5.9},{"x":0.056,"y":7.2,"c":6.25},{"x":0.064,"y":7.2,"c":6.55},{"x":0.072,"y":7.2,"c":7.0},{"x":0.082,"y":7.2,"c":7.25},{"x":0.094,"y":7.2,"c":7.5},{"x":0.108,"y":7.2,"c":7.8},{"x":0.124,"y":7.2,"c":8.15},{"x":0.144,"y":7.2,"c":8.3},{"x":0.164,"y":7.2,"c":8.4},
{"x":0.024,"y":7.7,"c":3.7},{"x":0.029,"y":7.7,"c":4.2},{"x":0.034,"y":7.7,"c":4.7},{"x":0.039,"y":7.7,"c":5.15},{"x":0.044,"y":7.7,"c":5.5},{"x":0.05,"y":7.7,"c":5.85},{"x":0.056,"y":7.7,"c":6.2},{"x":0.064,"y":7.7,"c":6.5},{"x":0.072,"y":7.7,"c":6.9},{"x":0.082,"y":7.7,"c":7.2},{"x":0.094,"y":7.7,"c":7.45},{"x":0.108,"y":7.7,"c":7.7},{"x":0.124,"y":7.7,"c":8.05},{"x":0.144,"y":7.7,"c":8.25},{"x":0.164,"y":7.7,"c":8.35},
{"x":0.024,"y":8.2,"c":3.65},{"x":0.029,"y":8.2,"c":4.2},{"x":0.034,"y":8.2,"c":4.7},{"x":0.039,"y":8.2,"c":5.1},{"x":0.044,"y":8.2,"c":5.5},{"x":0.05,"y":8.2,"c":5.85},{"x":0.056,"y":8.2,"c":6.2},{"x":0.064,"y":8.2,"c":6.5},{"x":0.072,"y":8.2,"c":6.9},{"x":0.082,"y":8.2,"c":7.2},{"x":0.094,"y":8.2,"c":7.45},{"x":0.108,"y":8.2,"c":7.75},{"x":0.124,"y":8.2,"c":8.1},{"x":0.144,"y":8.2,"c":8.25},{"x":0.164,"y":8.2,"c":8.3},
{"x":0.024,"y":8.7,"c":3.6},{"x":0.029,"y":8.7,"c":4.15},{"x":0.034,"y":8.7,"c":4.65},{"x":0.039,"y":8.7,"c":5.05},{"x":0.044,"y":8.7,"c":5.5},{"x":0.05,"y":8.7,"c":5.85},{"x":0.056,"y":8.7,"c":6.2},{"x":0.064,"y":8.7,"c":6.5},{"x":0.072,"y":8.7,"c":6.85},{"x":0.082,"y":8.7,"c":7.15},{"x":0.094,"y":8.7,"c":7.4},{"x":0.108,"y":8.7,"c":7.65},{"x":0.124,"y":8.7,"c":7.95},{"x":0.144,"y":8.7,"c":8.15},{"x":0.164,"y":8.7,"c":8.2},
{"x":0.024,"y":9.2,"c":3.55},{"x":0.029,"y":9.2,"c":4.1},{"x":0.034,"y":9.2,"c":4.6},{"x":0.039,"y":9.2,"c":5.0},{"x":0.044,"y":9.2,"c":5.45},{"x":0.05,"y":9.2,"c":5.8},{"x":0.056,"y":9.2,"c":6.15},{"x":0.064,"y":9.2,"c":6.45},{"x":0.072,"y":9.2,"c":6.8},{"x":0.082,"y":9.2,"c":7.1},{"x":0.094,"y":9.2,"c":7.35},{"x":0.108,"y":9.2,"c":7.55},{"x":0.124,"y":9.2,"c":7.85},{"x":0.144,"y":9.2,"c":8.1},{"x":0.164,"y":9.2,"c":8.15},
{"x":0.024,"y":9.7,"c":3.5},{"x":0.029,"y":9.7,"c":4.05},{"x":0.034,"y":9.7,"c":4.6},{"x":0.039,"y":9.7,"c":5.0},{"x":0.044,"y":9.7,"c":5.4},{"x":0.05,"y":9.7,"c":5.75},{"x":0.056,"y":9.7,"c":6.1},{"x":0.064,"y":9.7,"c":6.4},{"x":0.072,"y":9.7,"c":6.75},{"x":0.082,"y":9.7,"c":7.1},{"x":0.094,"y":9.7,"c":7.3},{"x":0.108,"y":9.7,"c":7.55},{"x":0.124,"y":9.7,"c":7.85},{"x":0.144,"y":9.7,"c":8.05},{"x":0.164,"y":9.7,"c":8.1},
{"x":0.024,"y":10.2,"c":3.5},{"x":0.029,"y":10.2,"c":4.0},{"x":0.034,"y":10.2,"c":4.55},{"x":0.039,"y":10.2,"c":4.95},{"x":0.044,"y":10.2,"c":5.4},{"x":0.05,"y":10.2,"c":5.75},{"x":0.056,"y":10.2,"c":6.1},{"x":0.064,"y":10.2,"c":6.4},{"x":0.072,"y":10.2,"c":6.7},{"x":0.082,"y":10.2,"c":7.05},{"x":0.094,"y":10.2,"c":7.3},{"x":0.108,"y":10.2,"c":7.5},{"x":0.124,"y":10.2,"c":7.75},{"x":0.144,"y":10.2,"c":7.98},{"x":0.164,"y":10.2,"c":8.1},
{"x":0.024,"y":10.7,"c":3.5},{"x":0.029,"y":10.7,"c":4.05},{"x":0.034,"y":10.7,"c":4.6},{"x":0.039,"y":10.7,"c":5.0},{"x":0.044,"y":10.7,"c":5.4},{"x":0.05,"y":10.7,"c":5.8},{"x":0.056,"y":10.7,"c":6.15},{"x":0.064,"y":10.7,"c":6.5},{"x":0.072,"y":10.7,"c":6.85},{"x":0.082,"y":10.7,"c":7.15},{"x":0.094,"y":10.7,"c":7.4},{"x":0.108,"y":10.7,"c":7.65},{"x":0.124,"y":10.7,"c":8.0},{"x":0.144,"y":10.7,"c":8.2},{"x":0.164,"y":10.7,"c":8.25},
{"x":0.024,"y":11.2,"c":3.2},{"x":0.029,"y":11.2,"c":4.0},{"x":0.034,"y":11.2,"c":4.5},{"x":0.039,"y":11.2,"c":4.85},{"x":0.044,"y":11.2,"c":5.25},{"x":0.05,"y":11.2,"c":5.6},{"x":0.056,"y":11.2,"c":5.95},{"x":0.064,"y":11.2,"c":6.3},{"x":0.072,"y":11.2,"c":6.6},{"x":0.082,"y":11.2,"c":6.95},{"x":0.094,"y":11.2,"c":7.2},{"x":0.108,"y":11.2,"c":7.45},{"x":0.124,"y":11.2,"c":7.7},{"x":0.144,"y":11.2,"c":7.85},{"x":0.164,"y":11.2,"c":7.9},
{"x":0.024,"y":11.7,"c":3.0},{"x":0.029,"y":11.7,"c":3.8},{"x":0.034,"y":11.7,"c":4.3},{"x":0.039,"y":11.7,"c":4.7},{"x":0.044,"y":11.7,"c":5.0},{"x":0.05,"y":11.7,"c":5.45},{"x":0.056,"y":11.7,"c":5.8},{"x":0.064,"y":11.7,"c":6.1},{"x":0.072,"y":11.7,"c":6.45},{"x":0.082,"y":11.7,"c":6.75},{"x":0.094,"y":11.7,"c":7.05},{"x":0.108,"y":11.7,"c":7.3},{"x":0.124,"y":11.7,"c":7.5},{"x":0.144,"y":11.7,"c":7.65},{"x":0.164,"y":11.7,"c":7.75},
{"x":0.024,"y":12.2,"c":2.9},{"x":0.029,"y":12.2,"c":3.55},{"x":0.034,"y":12.2,"c":4.1},{"x":0.039,"y":12.2,"c":4.55},{"x":0.044,"y":12.2,"c":5.0},{"x":0.05,"y":12.2,"c":5.35},{"x":0.056,"y":12.2,"c":5.7},{"x":0.064,"y":12.2,"c":6.05},{"x":0.072,"y":12.2,"c":6.4},{"x":0.082,"y":12.2,"c":6.7},{"x":0.094,"y":12.2,"c":7.0},{"x":0.108,"y":12.2,"c":7.3},{"x":0.124,"y":12.2,"c":7.5},{"x":0.144,"y":12.2,"c":7.6},{"x":0.164,"y":12.2,"c":7.7}],
"cellD":[
{"x":0.024,"y":5.7,"c":3.5},{"x":0.029,"y":5.7,"c":4.0},{"x":0.034,"y":5.7,"c":4.45},{"x":0.039,"y":5.7,"c":4.95},{"x":0.044,"y":5.7,"c":5.3},{"x":0.05,"y":5.7,"c":5.65},{"x":0.056,"y":5.7,"c":6.05},{"x":0.064,"y":5.7,"c":6.35},{"x":0.072,"y":5.7,"c":6.7},{"x":0.082,"y":5.7,"c":7.1},{"x":0.094,"y":5.7,"c":7.35},{"x":0.108,"y":5.7,"c":7.65},{"x":0.124,"y":5.7,"c":8.05},{"x":0.144,"y":5.7,"c":8.2},{"x":0.164,"y":5.7,"c":8.3},
{"x":0.024,"y":6.2,"c":3.3},{"x":0.029,"y":6.2,"c":4.0},{"x":0.034,"y":6.2,"c":4.45},{"x":0.039,"y":6.2,"c":4.95},{"x":0.044,"y":6.2,"c":5.3},{"x":0.05,"y":6.2,"c":5.65},{"x":0.056,"y":6.2,"c":6.05},{"x":0.064,"y":6.2,"c":6.35},{"x":0.072,"y":6.2,"c":6.7},{"x":0.082,"y":6.2,"c":7.1},{"x":0.094,"y":6.2,"c":7.35},{"x":0.108,"y":6.2,"c":7.65},{"x":0.124,"y":6.2,"c":8.05},{"x":0.144,"y":6.2,"c":8.2},{"x":0.164,"y":6.2,"c":8.3},
{"x":0.024,"y":6.7,"c":3.25},{"x":0.029,"y":6.7,"c":4.0},{"x":0.034,"y":6.7,"c":4.45},{"x":0.039,"y":6.7,"c":4.95},{"x":0.044,"y":6.7,"c":5.3},{"x":0.05,"y":6.7,"c":5.65},{"x":0.056,"y":6.7,"c":6.05},{"x":0.064,"y":6.7,"c":6.35},{"x":0.072,"y":6.7,"c":6.7},{"x":0.082,"y":6.7,"c":7.05},{"x":0.094,"y":6.7,"c":7.35},{"x":0.108,"y":6.7,"c":7.65},{"x":0.124,"y":6.7,"c":8.05},{"x":0.144,"y":6.7,"c":8.25},{"x":0.164,"y":6.7,"c":8.35},
{"x":0.024,"y":7.2,"c":3.2},{"x":0.029,"y":7.2,"c":4.0},{"x":0.034,"y":7.2,"c":4.5},{"x":0.039,"y":7.2,"c":5.0},{"x":0.044,"y":7.2,"c":5.35},{"x":0.05,"y":7.2,"c":5.7},{"x":0.056,"y":7.2,"c":6.05},{"x":0.064,"y":7.2,"c":6.35},{"x":0.072,"y":7.2,"c":6.7},{"x":0.082,"y":7.2,"c":7.1},{"x":0.094,"y":7.2,"c":7.35},{"x":0.108,"y":7.2,"c":7.65},{"x":0.124,"y":7.2,"c":8.1},{"x":0.144,"y":7.2,"c":8.3},{"x":0.164,"y":7.2,"c":8.4},
{"x":0.024,"y":7.7,"c":3.2},{"x":0.029,"y":7.7,"c":4.05},{"x":0.034,"y":7.7,"c":4.5},{"x":0.039,"y":7.7,"c":5.0},{"x":0.044,"y":7.7,"c":5.35},{"x":0.05,"y":7.7,"c":5.7},{"x":0.056,"y":7.7,"c":6.05},{"x":0.064,"y":7.7,"c":6.4},{"x":0.072,"y":7.7,"c":6.8},{"x":0.082,"y":7.7,"c":7.15},{"x":0.094,"y":7.7,"c":7.4},{"x":0.108,"y":7.7,"c":7.75},{"x":0.124,"y":7.7,"c":8.15},{"x":0.144,"y":7.7,"c":8.35},{"x":0.164,"y":7.7,"c":8.45},
{"x":0.024,"y":8.2,"c":3.15},{"x":0.029,"y":8.2,"c":3.95},{"x":0.034,"y":8.2,"c":4.4},{"x":0.039,"y":8.2,"c":4.85},{"x":0.044,"y":8.2,"c":5.2},{"x":0.05,"y":8.2,"c":5.6},{"x":0.056,"y":8.2,"c":5.9},{"x":0.064,"y":8.2,"c":6.25},{"x":0.072,"y":8.2,"c":6.6},{"x":0.082,"y":8.2,"c":7.0},{"x":0.094,"y":8.2,"c":7.3},{"x":0.108,"y":8.2,"c":7.55},{"x":0.124,"y":8.2,"c":7.85},{"x":0.144,"y":8.2,"c":8.1},{"x":0.164,"y":8.2,"c":8.2},
{"x":0.024,"y":8.7,"c":3.15},{"x":0.029,"y":8.7,"c":3.9},{"x":0.034,"y":8.7,"c":4.4},{"x":0.039,"y":8.7,"c":4.85},{"x":0.044,"y":8.7,"c":5.25},{"x":0.05,"y":8.7,"c":5.6},{"x":0.056,"y":8.7,"c":6.0},{"x":0.064,"y":8.7,"c":6.3},{"x":0.072,"y":8.7,"c":6.65},{"x":0.082,"y":8.7,"c":7.05},{"x":0.094,"y":8.7,"c":7.3},{"x":0.108,"y":8.7,"c":7.6},{"x":0.124,"y":8.7,"c":7.95},{"x":0.144,"y":8.7,"c":8.15},{"x":0.164,"y":8.7,"c":8.2},
{"x":0.024,"y":9.2,"c":3.1},{"x":0.029,"y":9.2,"c":3.85},{"x":0.034,"y":9.2,"c":4.35},{"x":0.039,"y":9.2,"c":4.8},{"x":0.044,"y":9.2,"c":5.15},{"x":0.05,"y":9.2,"c":5.5},{"x":0.056,"y":9.2,"c":5.9},{"x":0.064,"y":9.2,"c":6.25},{"x":0.072,"y":9.2,"c":6.6},{"x":0.082,"y":9.2,"c":6.95},{"x":0.094,"y":9.2,"c":7.25},{"x":0.108,"y":9.2,"c":7.5},{"x":0.124,"y":9.2,"c":7.8},{"x":0.144,"y":9.2,"c":8.05},{"x":0.164,"y":9.2,"c":8.15},
{"x":0.024,"y":9.7,"c":3.05},{"x":0.029,"y":9.7,"c":3.8},{"x":0.034,"y":9.7,"c":4.3},{"x":0.039,"y":9.7,"c":4.75},{"x":0.044,"y":9.7,"c":5.15},{"x":0.05,"y":9.7,"c":5.5},{"x":0.056,"y":9.7,"c":5.85},{"x":0.064,"y":9.7,"c":6.15},{"x":0.072,"y":9.7,"c":6.55},{"x":0.082,"y":9.7,"c":6.9},{"x":0.094,"y":9.7,"c":7.15},{"x":0.108,"y":9.7,"c":7.45},{"x":0.124,"y":9.7,"c":7.7},{"x":0.144,"y":9.7,"c":8.0},{"x":0.164,"y":9.7,"c":8.1},
{"x":0.024,"y":10.2,"c":3.0},{"x":0.029,"y":10.2,"c":3.75},{"x":0.034,"y":10.2,"c":4.3},{"x":0.039,"y":10.2,"c":4.75},{"x":0.044,"y":10.2,"c":5.15},{"x":0.05,"y":10.2,"c":5.5},{"x":0.056,"y":10.2,"c":5.85},{"x":0.064,"y":10.2,"c":6.2},{"x":0.072,"y":10.2,"c":6.55},{"x":0.082,"y":10.2,"c":6.95},{"x":0.094,"y":10.2,"c":7.2},{"x":0.108,"y":10.2,"c":7.45},{"x":0.124,"y":10.2,"c":7.75},{"x":0.144,"y":10.2,"c":8.05},{"x":0.164,"y":10.2,"c":8.1},
{"x":0.024,"y":10.7,"c":3.0},{"x":0.029,"y":10.7,"c":3.7},{"x":0.034,"y":10.7,"c":4.3},{"x":0.039,"y":10.7,"c":4.75},{"x":0.044,"y":10.7,"c":5.15},{"x":0.05,"y":10.7,"c":5.5},{"x":0.056,"y":10.7,"c":5.85},{"x":0.064,"y":10.7,"c":6.15},{"x":0.072,"y":10.7,"c":6.5},{"x":0.082,"y":10.7,"c":6.85},{"x":0.094,"y":10.7,"c":7.15},{"x":0.108,"y":10.7,"c":7.4},{"x":0.124,"y":10.7,"c":7.7},{"x":0.144,"y":10.7,"c":7.97},{"x":0.164,"y":10.7,"c":8.1},
{"x":0.024,"y":11.2,"c":3.0},{"x":0.029,"y":11.2,"c":3.7},{"x":0.034,"y":11.2,"c":4.25},{"x":0.039,"y":11.2,"c":4.7},{"x":0.044,"y":11.2,"c":5.1},{"x":0.05,"y":11.2,"c":5.45},{"x":0.056,"y":11.2,"c":5.8},{"x":0.064,"y":11.2,"c":6.1},{"x":0.072,"y":11.2,"c":6.5},{"x":0.082,"y":11.2,"c":6.85},{"x":0.094,"y":11.2,"c":7.1},{"x":0.108,"y":11.2,"c":7.4},{"x":0.124,"y":11.2,"c":7.65},{"x":0.144,"y":11.2,"c":7.9},{"x":0.164,"y":11.2,"c":8.05},
{"x":0.024,"y":11.7,"c":2.95},{"x":0.029,"y":11.7,"c":3.45},{"x":0.034,"y":11.7,"c":4.0},{"x":0.039,"y":11.7,"c":4.45},{"x":0.044,"y":11.7,"c":4.9},{"x":0.05,"y":11.7,"c":5.25},{"x":0.056,"y":11.7,"c":5.65},{"x":0.064,"y":11.7,"c":5.95},{"x":0.072,"y":11.7,"c":6.35},{"x":0.082,"y":11.7,"c":6.65},{"x":0.094,"y":11.7,"c":7.0},{"x":0.108,"y":11.7,"c":7.25},{"x":0.124,"y":11.7,"c":7.5},{"x":0.144,"y":11.7,"c":7.7},{"x":0.164,"y":11.7,"c":7.75},
{"x":0.024,"y":12.2,"c":2.5},{"x":0.029,"y":12.2,"c":3.15},{"x":0.034,"y":12.2,"c":3.7},{"x":0.039,"y":12.2,"c":4.15},{"x":0.044,"y":12.2,"c":4.6},{"x":0.05,"y":12.2,"c":4.95},{"x":0.056,"y":12.2,"c":5.45},{"x":0.064,"y":12.2,"c":5.8},{"x":0.072,"y":12.2,"c":6.15},{"x":0.082,"y":12.2,"c":6.5},{"x":0.094,"y":12.2,"c":6.85},{"x":0.108,"y":12.2,"c":7.05},{"x":0.124,"y":12.2,"c":7.3},{"x":0.144,"y":12.2,"c":7.5},{"x":0.164,"y":12.2,"c":7.6}],
"bar":[{"c":2.0},{"c":2.1},{"c":2.2},{"c":2.3},{"c":2.4},{"c":2.5},{"c":2.6},{"c":2.7},{"c":2.8},{"c":2.9},{"c":3.0},{"c":3.1},{"c":3.2},{"c":3.3},{"c":3.4},{"c":3.5},{"c":3.6},{"c":3.7},{"c":3.8},{"c":3.9},{"c":4.0},{"c":4.1},{"c":4.2},{"c":4.3},{"c":4.4},{"c":4.5},{"c":4.6},{"c":4.7},{"c":4.8},{"c":4.9},{"c":5.0},{"c":5.1},{"c":5.2},{"c":5.3},{"c":5.4},{"c":5.5},{"c":5.6},{"c":5.7},{"c":5.8},{"c":5.9},{"c":6.0},{"c":6.1},{"c":6.2},{"c":6.3},{"c":6.4},{"c":6.5},{"c":6.6},{"c":6.7},{"c":6.8},{"c":6.9},{"c":7.0},{"c":7.1},{"c":7.2},{"c":7.3},{"c":7.4},{"c":7.5},{"c":7.6},{"c":7.7},{"c":7.8},{"c":7.9},{"c":8.0},{"c":8.1},{"c":8.2},{"c":8.3},{"c":8.4},{"c":8.5}]
},
"spacing":48.5,
"hconcat":[
{"spacing":41,"vconcat":[
{"spacing":31,"hconcat":[
{"title":"NIRISS NRM F430M","width":331,"height":338,"encoding":{"x":{"field":"x","type":"quantitative","scale":{"domain":[0.0241,0.1838],"nice":false,"zero":false},"axis":{"values":[0.05,0.1,0.15],"format":".2f","title":"Separation (arcsec)"}},"y":{"field":"y","type":"quantitative","scale":{"domain":[5.73,12.72],"nice":false,"zero":false},"axis":{"values":[6,8,10,12],"title":"Stellar Mₛ (mag)"}}},"layer":[
{"data":{"name":"cellA"},"transform":[{"lookup":"x","from":{"data":{"name":"cols"},"key":"x","fields":["x2"]}},{"calculate":"datum.y+0.52","as":"y2"}],"encoding":{"x2":{"field":"x2"},"y2":{"field":"y2"},"color":{"field":"c","type":"quantitative","scale":{"scheme":"viridis","domain":[2,8.5]},"legend":null}},"layer":[{"mark":{"type":"rect","clip":true}},{"mark":{"type":"rect","clip":true,"opacity":0.5,"xOffset":-6,"yOffset":-9}},{"mark":{"type":"rect","clip":true,"opacity":0.33,"xOffset":6,"yOffset":9}},{"mark":{"type":"rect","clip":true,"opacity":0.25,"xOffset":-2,"yOffset":3}},{"mark":{"type":"rect","clip":true,"opacity":0.2,"xOffset":2,"yOffset":-3}},{"mark":{"type":"rect","clip":true,"opacity":0.167,"xOffset":-12,"yOffset":5}},{"mark":{"type":"rect","clip":true,"opacity":0.143,"xOffset":12,"yOffset":-5}}]},
{"data":{"name":"maskA"},"mark":{"type":"rect","color":"#808080"},"encoding":{"x2":{"field":"x2"},"y2":{"field":"y2"}}},
{"data":{"name":"lineA"},"mark":{"type":"line","order":false,"clip":true,"interpolate":"catmull-rom","stroke":"#808080","strokeWidth":3.5,"strokeDash":[3.5,6.5]},"encoding":{"detail":{"field":"lev"}}},
{"data":{"name":"frame"},"mark":{"type":"rect","fill":null,"stroke":"black","strokeWidth":2},"encoding":{"x2":{"field":"x2"},"y2":{"field":"y2"}}}]},
{"title":"NIRISS NRM F480M","width":331,"height":338,"encoding":{"x":{"field":"x","type":"quantitative","scale":{"domain":[0.0241,0.1838],"nice":false,"zero":false},"axis":{"values":[0.05,0.1,0.15],"format":".2f","title":"Separation (arcsec)"}},"y":{"field":"y","type":"quantitative","scale":{"domain":[5.73,12.72],"nice":false,"zero":false},"axis":{"values":[6,8,10,12],"title":"Stellar Mₛ (mag)"}}},"layer":[
{"data":{"name":"cellB"},"transform":[{"lookup":"x","from":{"data":{"name":"cols"},"key":"x","fields":["x2"]}},{"calculate":"datum.y+0.52","as":"y2"}],"encoding":{"x2":{"field":"x2"},"y2":{"field":"y2"},"color":{"field":"c","type":"quantitative","scale":{"scheme":"viridis","domain":[2,8.5]},"legend":null}},"layer":[{"mark":{"type":"rect","clip":true}},{"mark":{"type":"rect","clip":true,"opacity":0.5,"xOffset":-6,"yOffset":-9}},{"mark":{"type":"rect","clip":true,"opacity":0.33,"xOffset":6,"yOffset":9}},{"mark":{"type":"rect","clip":true,"opacity":0.25,"xOffset":-2,"yOffset":3}},{"mark":{"type":"rect","clip":true,"opacity":0.2,"xOffset":2,"yOffset":-3}},{"mark":{"type":"rect","clip":true,"opacity":0.167,"xOffset":-12,"yOffset":5}},{"mark":{"type":"rect","clip":true,"opacity":0.143,"xOffset":12,"yOffset":-5}}]},
{"data":{"name":"maskB"},"mark":{"type":"rect","color":"#808080"},"encoding":{"x2":{"field":"x2"},"y2":{"field":"y2"}}},
{"data":{"name":"lineB"},"mark":{"type":"line","order":false,"clip":true,"interpolate":"catmull-rom","stroke":"#808080","strokeWidth":3.5,"strokeDash":[3.5,6.5]},"encoding":{"detail":{"field":"lev"}}},
{"data":{"name":"frame"},"mark":{"type":"rect","fill":null,"stroke":"black","strokeWidth":2},"encoding":{"x2":{"field":"x2"},"y2":{"field":"y2"}}}]}
]},
{"spacing":31,"hconcat":[
{"title":"NIRCam KP F430M","width":331,"height":338,"encoding":{"x":{"field":"x","type":"quantitative","scale":{"domain":[0.0241,0.1838],"nice":false,"zero":false},"axis":{"values":[0.05,0.1,0.15],"format":".2f","title":"Separation (arcsec)"}},"y":{"field":"y","type":"quantitative","scale":{"domain":[5.73,12.72],"nice":false,"zero":false},"axis":{"values":[6,8,10,12],"title":"Stellar Mₛ (mag)"}}},"layer":[
{"data":{"name":"cellC"},"transform":[{"lookup":"x","from":{"data":{"name":"cols"},"key":"x","fields":["x2"]}},{"calculate":"datum.y+0.52","as":"y2"}],"encoding":{"x2":{"field":"x2"},"y2":{"field":"y2"},"color":{"field":"c","type":"quantitative","scale":{"scheme":"viridis","domain":[2,8.5]},"legend":null}},"layer":[{"mark":{"type":"rect","clip":true}},{"mark":{"type":"rect","clip":true,"opacity":0.5,"xOffset":-6,"yOffset":-9}},{"mark":{"type":"rect","clip":true,"opacity":0.33,"xOffset":6,"yOffset":9}},{"mark":{"type":"rect","clip":true,"opacity":0.25,"xOffset":-2,"yOffset":3}},{"mark":{"type":"rect","clip":true,"opacity":0.2,"xOffset":2,"yOffset":-3}},{"mark":{"type":"rect","clip":true,"opacity":0.167,"xOffset":-12,"yOffset":5}},{"mark":{"type":"rect","clip":true,"opacity":0.143,"xOffset":12,"yOffset":-5}}]},
{"data":{"name":"maskC"},"mark":{"type":"rect","color":"#808080"},"encoding":{"x2":{"field":"x2"},"y2":{"field":"y2"}}},
{"data":{"name":"lineC"},"mark":{"type":"line","order":false,"clip":true,"interpolate":"catmull-rom","stroke":"#808080","strokeWidth":3.5,"strokeDash":[3.5,6.5]},"encoding":{"detail":{"field":"lev"}}},
{"data":{"name":"frame"},"mark":{"type":"rect","fill":null,"stroke":"black","strokeWidth":2},"encoding":{"x2":{"field":"x2"},"y2":{"field":"y2"}}}]},
{"title":"NIRCam KP F480M","width":331,"height":338,"encoding":{"x":{"field":"x","type":"quantitative","scale":{"domain":[0.0241,0.1838],"nice":false,"zero":false},"axis":{"values":[0.05,0.1,0.15],"format":".2f","title":"Separation (arcsec)"}},"y":{"field":"y","type":"quantitative","scale":{"domain":[5.73,12.72],"nice":false,"zero":false},"axis":{"values":[6,8,10,12],"title":"Stellar Mₛ (mag)"}}},"layer":[
{"data":{"name":"cellD"},"transform":[{"lookup":"x","from":{"data":{"name":"cols"},"key":"x","fields":["x2"]}},{"calculate":"datum.y+0.52","as":"y2"}],"encoding":{"x2":{"field":"x2"},"y2":{"field":"y2"},"color":{"field":"c","type":"quantitative","scale":{"scheme":"viridis","domain":[2,8.5]},"legend":null}},"layer":[{"mark":{"type":"rect","clip":true}},{"mark":{"type":"rect","clip":true,"opacity":0.5,"xOffset":-6,"yOffset":-9}},{"mark":{"type":"rect","clip":true,"opacity":0.33,"xOffset":6,"yOffset":9}},{"mark":{"type":"rect","clip":true,"opacity":0.25,"xOffset":-2,"yOffset":3}},{"mark":{"type":"rect","clip":true,"opacity":0.2,"xOffset":2,"yOffset":-3}},{"mark":{"type":"rect","clip":true,"opacity":0.167,"xOffset":-12,"yOffset":5}},{"mark":{"type":"rect","clip":true,"opacity":0.143,"xOffset":12,"yOffset":-5}}]},
{"data":{"name":"maskD"},"mark":{"type":"rect","color":"#808080"},"encoding":{"x2":{"field":"x2"},"y2":{"field":"y2"}}},
{"data":{"name":"lineD"},"mark":{"type":"line","order":false,"clip":true,"interpolate":"catmull-rom","stroke":"#808080","strokeWidth":3.5,"strokeDash":[3.5,6.5]},"encoding":{"detail":{"field":"lev"}}},
{"data":{"name":"frame"},"mark":{"type":"rect","fill":null,"stroke":"black","strokeWidth":2},"encoding":{"x2":{"field":"x2"},"y2":{"field":"y2"}}}]}
]}
]},
{"title":" ","width":31,"height":828,"layer":[
{"data":{"name":"bar"},"transform":[{"calculate":"datum.c+0.12","as":"c2"}],"encoding":{"y":{"field":"c","type":"quantitative","scale":{"domain":[2,8.5],"nice":false,"zero":false},"axis":{"orient":"right","values":[2,3,4,5,6,7,8],"format":"d","title":"5σ Contrast","titleAngle":270,"titlePadding":32}},"y2":{"field":"c2"},"color":{"field":"c","type":"quantitative","scale":{"scheme":"viridis","domain":[2,8.5]},"legend":null}},"layer":[{"mark":{"type":"rect","clip":true}},{"mark":{"type":"rect","clip":true,"opacity":0.5,"yOffset":-4}}]},
{"data":{"values":[{"c":2,"c2":8.5}]},"mark":{"type":"rect","fill":null,"stroke":"black","strokeWidth":2},"encoding":{"y":{"field":"c","type":"quantitative"},"y2":{"field":"c2"}}}
]}
]}
